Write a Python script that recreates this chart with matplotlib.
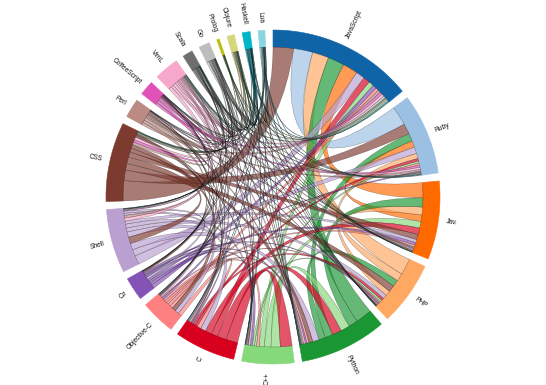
import numpy as np
import matplotlib
matplotlib.use("Agg")
import matplotlib.pyplot as plt
from matplotlib.path import Path
from matplotlib.patches import PathPatch, Polygon
from matplotlib.colors import to_rgba

# languages clockwise from 12 o'clock
languages = ["JavaScript", "Ruby", "Jav.", "PHP", "Python", "C++", "C", "Objective-C",
             "C#", "Shell", "CSS", "Perl", "CoffeeScript", "VimL", "Scala", "Go",
             "Prolog", "Clojure", "Haskell", "Lua"]

colors = ["#0f64a8", "#9cc0e4", "#ff6a00", "#ffa862", "#1a9632", "#86d97a", "#d8001f",
          "#ff8080", "#8552b5", "#b9a0d0", "#7d3b30", "#bb8a82", "#e052b8", "#f7a6cc",
          "#6e6e6e", "#bdbdbd", "#bcbd12", "#d6d67a", "#00b5c8", "#8ad6e0"]

# symmetric co-usage matrix (estimated from the ribbon widths)
matrix = [
    [0, 74, 58, 63, 63, 20, 25, 12, 15, 34, 78, 10, 10, 10, 6, 8, 2, 5, 4, 5],
    [74, 0, 25, 20, 30, 8, 10, 8, 5, 25, 40, 6, 8, 8, 3, 3, 0, 2, 2, 2],
    [58, 25, 0, 30, 35, 25, 25, 8, 10, 12, 20, 4, 2, 4, 5, 2, 1, 2, 1, 1],
    [63, 20, 30, 0, 25, 8, 10, 5, 5, 15, 25, 4, 2, 3, 1, 1, 0, 1, 1, 1],
    [63, 30, 35, 25, 0, 35, 35, 8, 6, 25, 15, 5, 2, 6, 2, 3, 1, 1, 2, 1],
    [20, 8, 25, 8, 35, 0, 45, 10, 8, 8, 3, 2, 0, 3, 1, 2, 0, 0, 1, 1],
    [25, 10, 25, 10, 35, 45, 0, 15, 5, 20, 5, 3, 1, 5, 0, 2, 0, 0, 1, 3],
    [12, 8, 8, 5, 8, 10, 15, 0, 8, 15, 15, 3, 2, 5, 2, 2, 0, 0, 1, 1],
    [15, 5, 10, 5, 6, 8, 5, 8, 0, 8, 5, 1, 1, 1, 1, 1, 0, 0, 0, 0],
    [34, 25, 12, 15, 25, 8, 20, 15, 8, 0, 25, 10, 3, 12, 2, 3, 0, 1, 1, 1],
    [78, 40, 20, 25, 15, 3, 5, 15, 5, 25, 0, 10, 10, 10, 3, 2, 1, 3, 2, 1],
    [10, 6, 4, 4, 5, 2, 3, 3, 1, 10, 10, 0, 1, 3, 1, 1, 0, 0, 0, 1],
    [10, 8, 2, 2, 2, 0, 1, 2, 1, 3, 10, 1, 0, 4, 1, 1, 0, 1, 1, 0],
    [10, 8, 4, 3, 6, 3, 5, 5, 1, 12, 10, 3, 4, 0, 2, 2, 1, 2, 2, 2],
    [6, 3, 5, 1, 2, 1, 0, 2, 1, 2, 3, 1, 1, 2, 0, 1, 0, 2, 2, 0],
    [8, 3, 2, 1, 3, 2, 2, 2, 1, 3, 2, 1, 1, 2, 1, 0, 0, 1, 1, 1],
    [2, 0, 1, 0, 1, 0, 0, 0, 0, 0, 1, 0, 0, 1, 0, 0, 0, 1, 2, 0],
    [5, 2, 2, 1, 1, 0, 0, 0, 0, 1, 3, 0, 1, 2, 2, 1, 1, 0, 2, 1],
    [4, 2, 1, 1, 2, 1, 1, 1, 0, 1, 2, 0, 1, 2, 2, 1, 2, 2, 0, 1],
    [5, 2, 1, 1, 1, 1, 3, 1, 0, 1, 1, 1, 0, 2, 0, 1, 0, 1, 1, 0],
]

CX, CY = 273, 197
R_IN, R_OUT = 150, 167
R_LABEL = 175
PAD = np.radians(2.8)


def pt(a, r):
    return (CX + r * np.sin(a), CY - r * np.cos(a))


def arc(r, a0, a1):
    n = max(2, int(abs(a1 - a0) / np.radians(1)) + 2)
    return [pt(a, r) for a in np.linspace(a0, a1, n)]


m = np.array(matrix, dtype=float)
n = len(languages)
k = (2 * np.pi - PAD * n) / m.sum()

# chord layout, subgroups sorted descending inside each group
groups = []
sub = {}
x = 0.0
for i in range(n):
    x0 = x
    for j in sorted(range(n), key=lambda j: -m[i, j]):
        v = m[i, j] * k
        sub[(i, j)] = (x, x + v)
        x += v
    groups.append((x0, x))
    x += PAD

fig = plt.figure(figsize=(5.46, 3.85), dpi=100)
ax = fig.add_axes([0, 0, 1, 1])
ax.set_xlim(0, 546)
ax.set_ylim(385, 0)
ax.set_aspect("equal")
ax.axis("off")

for i, (a0, a1) in enumerate(groups):
    verts = arc(R_OUT, a0, a1) + arc(R_IN, a1, a0)
    ax.add_patch(Polygon(verts, closed=True, fc=colors[i], ec=colors[i], lw=0.4))

for i in range(n):
    for j in range(i + 1, n):
        if m[i, j] == 0:
            continue
        s0, s1 = sub[(i, j)]
        t0, t1 = sub[(j, i)]
        verts = arc(R_IN, s0, s1)
        codes = [Path.MOVETO] + [Path.LINETO] * (len(verts) - 1)
        verts += [(CX, CY), pt(t0, R_IN)]
        codes += [Path.CURVE3] * 2
        ta = arc(R_IN, t0, t1)[1:]
        verts += ta
        codes += [Path.LINETO] * len(ta)
        verts += [(CX, CY), pt(s0, R_IN), pt(s0, R_IN)]
        codes += [Path.CURVE3, Path.CURVE3, Path.CLOSEPOLY]
        ax.add_patch(PathPatch(Path(verts, codes), fc=to_rgba(colors[j], 0.67),
                               ec=(0, 0, 0, 0.42), lw=0.3))

for i, (a0, a1) in enumerate(groups):
    a = (a0 + a1) / 2
    deg = np.degrees(a)
    x, y = pt(a, R_LABEL)
    if deg > 180:
        rot, ha = 270 - deg, "right"
    else:
        rot, ha = 90 - deg, "left"
    ax.text(x, y, languages[i], rotation=rot, rotation_mode="anchor",
            ha=ha, va="center", fontsize=4.8, family="Liberation Sans", color="#111111")

fig.savefig("out.png", dpi=100)
